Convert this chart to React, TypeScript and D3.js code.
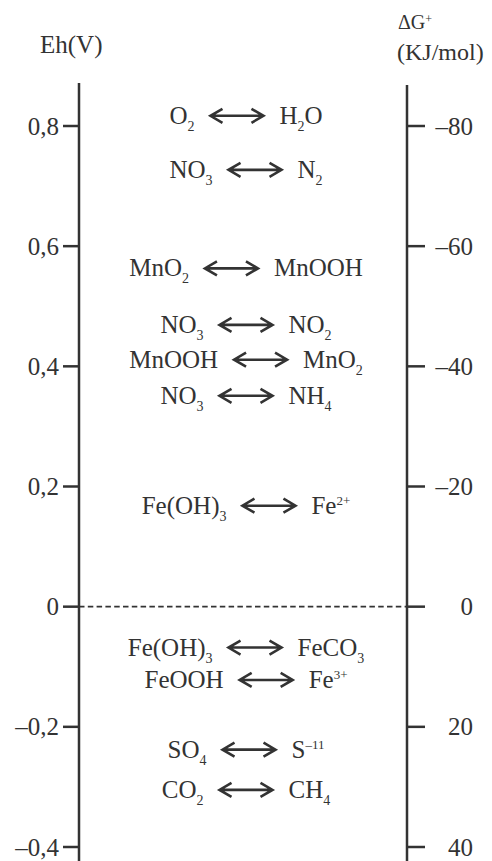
import React, { useEffect, useRef } from "react";
import * as d3 from "d3";

// Left axis: Eh (V)
const ehTicks = [0.8, 0.6, 0.4, 0.2, 0, -0.2, -0.4];
const ehTickLabels = ["0,8", "0,6", "0,4", "0,2", "0", "–0,2", "–0,4"];
// Right axis: ΔG (kJ/mol)
const dgTicks = [-80, -60, -40, -20, 0, 20, 40];
const dgTickLabels = ["–80", "–60", "–40", "–20", "0", "20", "40"];

// Redox couples (markup: _x subscript char, ^{..} superscript) and their Eh position
const leftSpecies = ["O_2", "NO_3", "MnO_2", "NO_3", "MnOOH", "NO_3", "Fe(OH)_3", "Fe(OH)_3", "FeOOH", "SO_4", "CO_2"];
const rightSpecies = ["H_2O", "N_2", "MnOOH", "NO_2", "MnO_2", "NH_4", "Fe^{2+}", "FeCO_3", "Fe^{3+}", "S^{–11}", "CH_4"];
const couplesEh = [0.817, 0.727, 0.563, 0.469, 0.411, 0.351, 0.168, -0.068, -0.122, -0.238, -0.305];

const W = 492;
const H = 861;
const FONT = "Liberation Serif, Tinos, DejaVu Serif, Times New Roman, serif";
const INK = "#333";

type Seg = { t: string; k: "n" | "sub" | "sup" };
function parse(s: string): Seg[] {
  const out: Seg[] = [];
  let i = 0;
  let buf = "";
  while (i < s.length) {
    const c = s[i];
    if (c === "_") {
      if (buf) { out.push({ t: buf, k: "n" }); buf = ""; }
      out.push({ t: s[i + 1], k: "sub" });
      i += 2;
    } else if (c === "^" && s[i + 1] === "{") {
      if (buf) { out.push({ t: buf, k: "n" }); buf = ""; }
      const j = s.indexOf("}", i);
      out.push({ t: s.slice(i + 2, j), k: "sup" });
      i = j + 1;
    } else {
      buf += c;
      i++;
    }
  }
  if (buf) out.push({ t: buf, k: "n" });
  return out;
}

function writeRich(sel: any, s: string) {
  const segs = parse(s);
  let shift = 0;
  segs.forEach((seg) => {
    const ts = sel.append("tspan").text(seg.t);
    let target = 0;
    if (seg.k === "sub") { target = 7; ts.attr("font-size", 14); }
    if (seg.k === "sup") { target = -9; ts.attr("font-size", 13); }
    ts.attr("dy", target - shift);
    shift = target;
  });
}

export default function App() {
  const ref = useRef<SVGSVGElement | null>(null);

  useEffect(() => {
    const svg = d3.select(ref.current!);
    svg.selectAll("*").remove();

    const yL = d3.scaleLinear().domain([-0.4, 0.8]).range([847, 126]);
    const yR = d3.scaleLinear().domain([40, -80]).range([847, 126]);
    const xL = 79;
    const xR = 407;

    // axis titles
    svg.append("text").attr("x", 40).attr("y", 53).attr("font-size", 25).attr("font-family", FONT).attr("fill", INK).text("Eh(V)");
    const dgT = svg.append("text").attr("x", 398).attr("y", 29).attr("font-size", 20).attr("font-family", FONT).attr("fill", INK);
    dgT.append("tspan").text("ΔG");
    dgT.append("tspan").text("+").attr("font-size", 12).attr("dy", -6);
    svg.append("text").attr("x", 397).attr("y", 60).attr("font-size", 24).attr("font-family", FONT).attr("fill", INK).text("(KJ/mol)");

    // zero dashed line
    svg.append("line").attr("x1", xL).attr("x2", xR).attr("y1", yL(0)).attr("y2", yL(0))
      .attr("stroke", INK).attr("stroke-width", 1.8).attr("stroke-dasharray", "5.5,3.3");

    // axis lines
    svg.append("line").attr("x1", xL).attr("x2", xL).attr("y1", 83).attr("y2", H).attr("stroke", INK).attr("stroke-width", 2.5);
    svg.append("line").attr("x1", xR).attr("x2", xR).attr("y1", 85).attr("y2", H).attr("stroke", INK).attr("stroke-width", 2.5);

    // left ticks
    const lt = svg.append("g");
    ehTicks.forEach((v, i) => {
      lt.append("line").attr("x1", xL - 16).attr("x2", xL).attr("y1", yL(v)).attr("y2", yL(v)).attr("stroke", INK).attr("stroke-width", 2.5);
      lt.append("text").attr("x", 59).attr("y", yL(v)).attr("dy", "0.34em").attr("text-anchor", "end")
        .attr("font-size", 25).attr("font-family", FONT).attr("fill", INK).text(ehTickLabels[i]);
    });
    // right ticks
    const rt = svg.append("g");
    dgTicks.forEach((v, i) => {
      rt.append("line").attr("x1", xR).attr("x2", xR + 18).attr("y1", yR(v)).attr("y2", yR(v)).attr("stroke", INK).attr("stroke-width", 2.5);
      rt.append("text").attr("x", 473).attr("y", yR(v)).attr("dy", "0.34em").attr("text-anchor", "end")
        .attr("font-size", 25).attr("font-family", FONT).attr("fill", INK).text(dgTickLabels[i]);
    });

    // couples
    const cx = 246;
    const gap = 16;
    const arrowW = 53;
    couplesEh.forEach((v, i) => {
      const g = svg.append("g");
      const lText = g.append("text").attr("x", 0).attr("y", 8).attr("font-size", 25).attr("font-family", FONT).attr("fill", INK);
      writeRich(lText, leftSpecies[i]);
      const wl = (lText.node() as SVGTextElement).getBBox().width;
      const a0 = wl + gap;
      const a1 = a0 + arrowW;
      const h = 12;
      const hy = 7;
      g.append("path")
        .attr("d", `M${a0 + h},${-hy} L${a0},0 L${a0 + h},${hy} M${a0},0 L${a1},0 M${a1 - h},${-hy} L${a1},0 L${a1 - h},${hy}`)
        .attr("fill", "none").attr("stroke", INK).attr("stroke-width", 2.6).attr("stroke-linejoin", "miter");
      const rText = g.append("text").attr("x", a1 + gap).attr("y", 8).attr("font-size", 25).attr("font-family", FONT).attr("fill", INK);
      writeRich(rText, rightSpecies[i]);
      const wr = (rText.node() as SVGTextElement).getBBox().width;
      const total = a1 + gap + wr;
      g.attr("transform", `translate(${cx - total / 2},${yL(v)})`);
    });
  }, []);

  return (
    <svg ref={ref} width={W} height={H} style={{ position: "absolute", left: 0, top: 0, background: "#fff" }} />
  );
}
